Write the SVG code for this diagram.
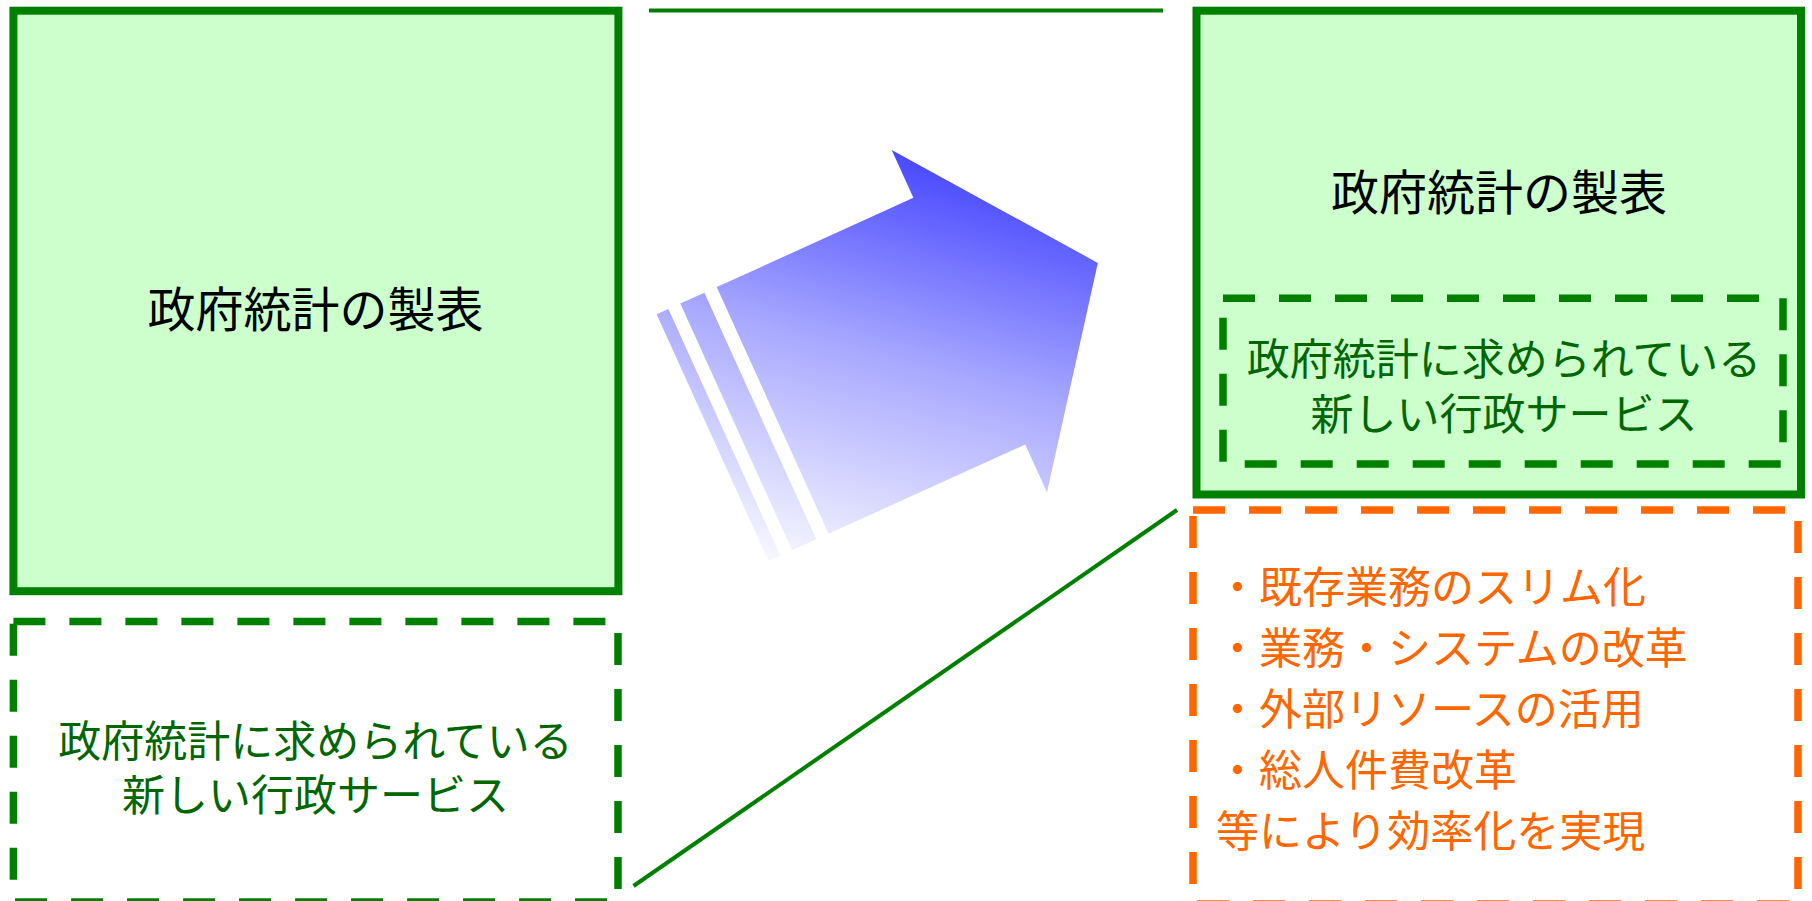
<svg xmlns="http://www.w3.org/2000/svg" width="1812" height="901" viewBox="0 0 1812 901">
  <defs>
    <linearGradient id="arrowGrad" gradientUnits="userSpaceOnUse" x1="893" y1="149" x2="775" y2="585">
      <stop offset="0" stop-color="#4848FF"/>
      <stop offset="0.45" stop-color="#A8A8FF"/>
      <stop offset="1" stop-color="#FFFFFF"/>
    </linearGradient>
    <style>
      .solid { fill: #CCFFCC; stroke: #008000; stroke-width: 8; }
      .dashg { fill: none; stroke: #008000; stroke-width: 7.5; stroke-dasharray: 32 24; }
      .dasho { fill: none; stroke: #FF6600; stroke-width: 7.5; stroke-dasharray: 32 24; }
      .conn { stroke: #008000; stroke-width: 4; fill: none; }
      text { font-family: "Noto Sans CJK JP", "Noto Sans", sans-serif; }
      .title { font-size: 48px; fill: #000000; text-anchor: middle; }
      .gtxt { font-size: 43px; fill: #006600; text-anchor: middle; }
      .otxt { font-size: 43px; fill: #FF6600; }
    </style>
  </defs>
  <rect width="1812" height="901" fill="#FFFFFF"/>

  <g id="connectors">
    <line class="conn" x1="649" y1="10.5" x2="1163" y2="10.5"/>
    <line class="conn" x1="633.5" y1="886" x2="1177" y2="510"/>
  </g>

  <g id="left-box">
    <rect class="solid" x="13.4" y="10.7" width="605" height="580.5"/>
    <text class="title" x="315.5" y="327">政府統計の製表</text>
  </g>

  <g id="left-dashed">
    <rect class="dashg" x="13.4" y="621.5" width="604.6" height="280.5"/>
    <text class="gtxt" x="315.5" y="757">政府統計に求められている</text>
    <text class="gtxt" x="315.5" y="811">新しい行政サービス</text>
  </g>

  <g id="arrow">
    <polygon fill="url(#arrowGrad)" points="1097.8,262.9 891.7,149.9 913.4,197.8 716.7,287.1 828.6,533.7 1025.3,444.5 1047.0,492.4"/>
    <polygon fill="url(#arrowGrad)" points="680.3,303.6 704.4,292.7 816.3,539.3 792.1,550.2"/>
    <polygon fill="url(#arrowGrad)" points="656.6,314.3 668.4,309.0 780.3,555.6 768.5,561.0"/>
  </g>

  <g id="right-box">
    <rect class="solid" x="1196.5" y="10.7" width="604.5" height="483.8"/>
    <text class="title" x="1499" y="210">政府統計の製表</text>
  </g>

  <g id="right-inner-dashed">
    <rect class="dashg" x="1223" y="298.3" width="560" height="165.7"/>
    <text class="gtxt" x="1504" y="375">政府統計に求められている</text>
    <text class="gtxt" x="1504" y="430">新しい行政サービス</text>
  </g>

  <g id="orange-box">
    <rect class="dasho" x="1193" y="510" width="605" height="394"/>
    <text class="otxt" x="1216" y="603">・既存業務のスリム化</text>
    <text class="otxt" x="1216" y="664">・業務・システムの改革</text>
    <text class="otxt" x="1216" y="725">・外部リソースの活用</text>
    <text class="otxt" x="1216" y="786">・総人件費改革</text>
    <text class="otxt" x="1216" y="847">等により効率化を実現</text>
  </g>
</svg>
